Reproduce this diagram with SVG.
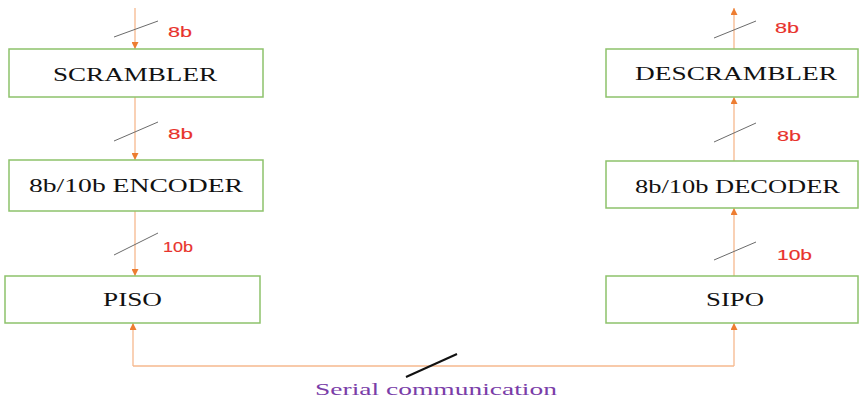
<svg xmlns="http://www.w3.org/2000/svg" width="859" height="401" viewBox="0 0 859 401">
  <style>
    .box { fill: #ffffff; stroke: #8DC26B; stroke-width: 1.5; }
    .lbl { font-family: "Liberation Serif", "Times New Roman", serif; font-size: 19px; fill: #111111; }
    .bits { font-family: "Liberation Sans", Arial, sans-serif; font-size: 14.5px; fill: #E8332C; stroke: #E8332C; stroke-width: 0.15; }
    .wire { fill: none; stroke: #F6B98E; stroke-width: 1.3; }
    .slash { stroke: #6b6b6b; stroke-width: 1; }
    .bus { stroke: #111111; stroke-width: 2; }
    .note { font-family: "Liberation Serif", "Times New Roman", serif; font-size: 17.5px; fill: #7A3DA8; }
  </style>
  <defs>
    <marker id="head" viewBox="0 0 10 10" refX="10" refY="5" markerWidth="7" markerHeight="7" markerUnits="userSpaceOnUse" orient="auto">
      <path d="M0,0 L10,5 L0,10 Z" fill="#ED7D31"/>
    </marker>
  </defs>
  <rect width="859" height="401" fill="#ffffff"/>

  <!-- connectors -->
  <g id="connectors">
    <line class="wire" x1="135" y1="8" x2="135" y2="49" marker-end="url(#head)"/>
    <line class="wire" x1="135" y1="97" x2="135" y2="160" marker-end="url(#head)"/>
    <line class="wire" x1="135" y1="211" x2="135" y2="276" marker-end="url(#head)"/>
    <line class="wire" x1="734" y1="49" x2="734" y2="8" marker-end="url(#head)"/>
    <line class="wire" x1="734" y1="161" x2="734" y2="97" marker-end="url(#head)"/>
    <line class="wire" x1="734" y1="276" x2="734" y2="208" marker-end="url(#head)"/>
    <path class="wire" d="M133,366 L734,366" />
    <line class="wire" x1="133" y1="366" x2="133" y2="323" marker-end="url(#head)"/>
    <line class="wire" x1="734" y1="366" x2="734" y2="323" marker-end="url(#head)"/>

    <!-- bus width slashes -->
    <line class="slash" x1="114" y1="37" x2="158" y2="21"/>
    <line class="slash" x1="114" y1="141" x2="158" y2="122"/>
    <line class="slash" x1="114" y1="255" x2="158" y2="233"/>
    <line class="slash" x1="714" y1="38" x2="756" y2="21"/>
    <line class="slash" x1="714" y1="142" x2="756" y2="123"/>
    <line class="slash" x1="714" y1="260" x2="756" y2="242"/>
    <line class="bus" x1="406" y1="377" x2="457" y2="354"/>

    <text class="bits" x="168" y="37" textLength="24" lengthAdjust="spacingAndGlyphs">8b</text>
    <text class="bits" x="168" y="139" textLength="25" lengthAdjust="spacingAndGlyphs">8b</text>
    <text class="bits" x="163" y="252" textLength="30" lengthAdjust="spacingAndGlyphs">10b</text>
    <text class="bits" x="775" y="33" textLength="24" lengthAdjust="spacingAndGlyphs">8b</text>
    <text class="bits" x="777" y="141" textLength="24" lengthAdjust="spacingAndGlyphs">8b</text>
    <text class="bits" x="777" y="260" textLength="35" lengthAdjust="spacingAndGlyphs">10b</text>
    <text class="note" x="315" y="395" textLength="242" lengthAdjust="spacingAndGlyphs">Serial communication</text>
  </g>

  <!-- transmit side -->
  <g id="scrambler">
    <rect class="box" x="9" y="49" width="254" height="48"/>
    <text class="lbl" x="53" y="81" textLength="164" lengthAdjust="spacingAndGlyphs">SCRAMBLER</text>
  </g>
  <g id="encoder">
    <rect class="box" x="9" y="160" width="254" height="51"/>
    <text class="lbl" x="29" y="192" textLength="214" lengthAdjust="spacingAndGlyphs">8b/10b ENCODER</text>
  </g>
  <g id="piso">
    <rect class="box" x="5" y="276" width="255" height="47"/>
    <text class="lbl" x="103" y="306" textLength="59" lengthAdjust="spacingAndGlyphs">PISO</text>
  </g>

  <!-- receive side -->
  <g id="descrambler">
    <rect class="box" x="606" y="49" width="252" height="48"/>
    <text class="lbl" x="635" y="80" textLength="202" lengthAdjust="spacingAndGlyphs">DESCRAMBLER</text>
  </g>
  <g id="decoder">
    <rect class="box" x="606" y="161" width="252" height="47"/>
    <text class="lbl" x="635" y="193" textLength="205" lengthAdjust="spacingAndGlyphs">8b/10b DECODER</text>
  </g>
  <g id="sipo">
    <rect class="box" x="606" y="276" width="252" height="47"/>
    <text class="lbl" x="706" y="306" textLength="58" lengthAdjust="spacingAndGlyphs">SIPO</text>
  </g>
</svg>
